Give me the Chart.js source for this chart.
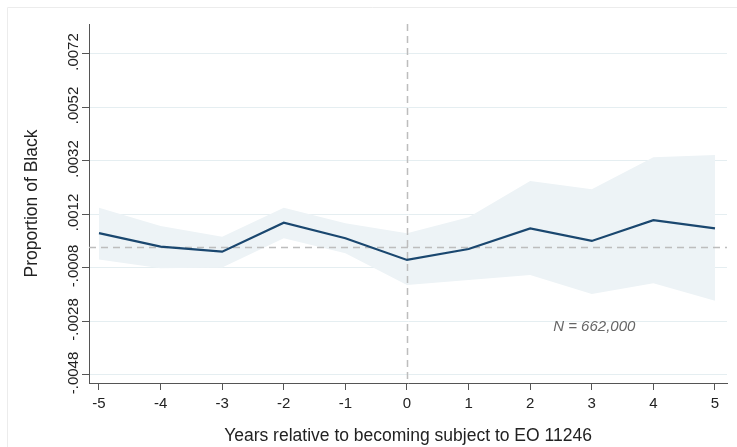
<!DOCTYPE html>
<html>
<head>
<meta charset="utf-8">
<script src="https://cdn.jsdelivr.net/npm/chart.js@4.4.1/dist/chart.umd.min.js"></script>
<style>
  html, body { margin: 0; padding: 0; background: #ffffff; }
  #wrap { width: 737px; height: 447px; position: relative; }
</style>
</head>
<body>
<div id="wrap"><canvas id="c" width="737" height="447"></canvas></div>
<script>
const years = [-5, -4, -3, -2, -1, 0, 1, 2, 3, 4, 5];
const estimate = [0.00050, 0.00000, -0.00019, 0.00089, 0.00031, -0.00050, -0.00009, 0.00068, 0.00021, 0.00099, 0.00068];
const upperCI = [0.00145, 0.00077, 0.00037, 0.00145, 0.00087, 0.00050, 0.00110, 0.00245, 0.00214, 0.00334, 0.00342];
const lowerCI = [-0.00048, -0.00081, -0.00078, 0.00031, -0.00025, -0.00144, -0.00125, -0.00106, -0.00177, -0.00137, -0.00203];
const yTickValues = [-0.0048, -0.0028, -0.0008, 0.0012, 0.0032, 0.0052, 0.0072];
const xTickValues = years;
const xTitle = 'Years relative to becoming subject to EO 11246';
const yTitle = 'Proportion of Black';
const noteText = 'N = 662,000';

const pts = arr => years.map((x, i) => ({x: x, y: arr[i]}));
const fmtY = v => {
  const s = Math.abs(v).toFixed(4).replace(/^0/, '');
  return (v < 0 ? '-' : '') + s;
};

const FONT = '"Liberation Sans", Arial, Helvetica, sans-serif';

const refLines = {
  id: 'refLines',
  beforeDatasetDraw(chart, args) {
    if (args.index !== 0) return;
    const {ctx, chartArea: a, scales: {x, y}} = chart;
    ctx.save();
    ctx.strokeStyle = '#bdbdbd';
    ctx.lineWidth = 1.5;
    ctx.setLineDash([7, 5]);
    const y0 = Math.round(y.getPixelForValue(0)) + 0.5;
    ctx.beginPath(); ctx.moveTo(a.left, y0); ctx.lineTo(a.right, y0); ctx.stroke();
    const x0 = Math.round(x.getPixelForValue(0)) + 0.5;
    ctx.beginPath(); ctx.moveTo(x0, a.top); ctx.lineTo(x0, a.bottom); ctx.stroke();
    ctx.restore();
  },
  afterDraw(chart) {
    const {ctx, scales: {x, y}} = chart;
    ctx.save();
    // y tick labels, rotated to read bottom-to-top
    ctx.font = '15px ' + FONT;
    ctx.fillStyle = '#222222';
    ctx.textAlign = 'center';
    ctx.textBaseline = 'middle';
    yTickValues.forEach(v => {
      const py = y.getPixelForValue(v) - 2;
      ctx.save();
      ctx.translate(74, py);
      ctx.rotate(-Math.PI / 2);
      ctx.fillText(fmtY(v), 0, 0);
      ctx.restore();
    });
    ctx.font = 'italic 15px ' + FONT;
    ctx.fillStyle = '#666666';
    ctx.fillText(noteText, x.getPixelForValue(3.04), y.getPixelForValue(-0.0030));
    // faint outer frame
    ctx.strokeStyle = '#ececec';
    ctx.lineWidth = 1;
    ctx.beginPath();
    ctx.moveTo(7.5, 447); ctx.lineTo(7.5, 7.5); ctx.lineTo(737, 7.5);
    ctx.stroke();
    ctx.restore();
  }
};

new Chart(document.getElementById('c'), {
  type: 'line',
  data: {
    datasets: [
      {
        label: 'estimate',
        data: pts(estimate),
        borderColor: '#1a476f',
        borderWidth: 2.2,
        pointRadius: 0,
        fill: false,
        tension: 0
      },
      {
        label: 'upper',
        data: pts(upperCI),
        borderWidth: 0,
        borderColor: 'rgba(0,0,0,0)',
        backgroundColor: '#edf3f6',
        pointRadius: 0,
        fill: '+1',
        tension: 0
      },
      {
        label: 'lower',
        data: pts(lowerCI),
        borderWidth: 0,
        borderColor: 'rgba(0,0,0,0)',
        pointRadius: 0,
        fill: false,
        tension: 0
      }
    ]
  },
  options: {
    responsive: false,
    animation: false,
    layout: { padding: { left: 0, top: 24, right: 10, bottom: 0 } },
    plugins: { legend: { display: false }, tooltip: { enabled: false } },
    scales: {
      x: {
        type: 'linear',
        min: -5.162,
        max: 5.195,
        afterBuildTicks: s => { s.ticks = xTickValues.map(v => ({value: v})); },
        afterFit: s => { s.height = 64; },
        ticks: {
          color: '#222222',
          font: { family: FONT, size: 15 },
          padding: 5,
          maxRotation: 0,
          callback: v => String(v)
        },
        grid: {
          drawOnChartArea: false,
          tickLength: 7,
          tickColor: '#555555',
          tickWidth: 1
        },
        border: { color: '#555555', width: 1 },
        title: {
          display: true,
          text: xTitle,
          color: '#222222',
          font: { family: FONT, size: 17.5 },
          padding: { top: 0, bottom: 0 }
        }
      },
      y: {
        type: 'linear',
        min: -0.0051,
        max: 0.00832,
        afterBuildTicks: s => { s.ticks = yTickValues.map(v => ({value: v})); },
        afterFit: s => { s.width = 89; },
        ticks: {
          display: false
        },
        grid: {
          color: '#e5eef1',
          lineWidth: 1,
          tickLength: 7,
          tickColor: '#555555',
          tickWidth: 1
        },
        border: { color: '#555555', width: 1 },
        title: {
          display: true,
          text: yTitle,
          color: '#222222',
          font: { family: FONT, size: 17.5 },
          padding: { top: 22, bottom: 0 }
        }
      }
    }
  },
  plugins: [refLines]
});
</script>
</body>
</html>
